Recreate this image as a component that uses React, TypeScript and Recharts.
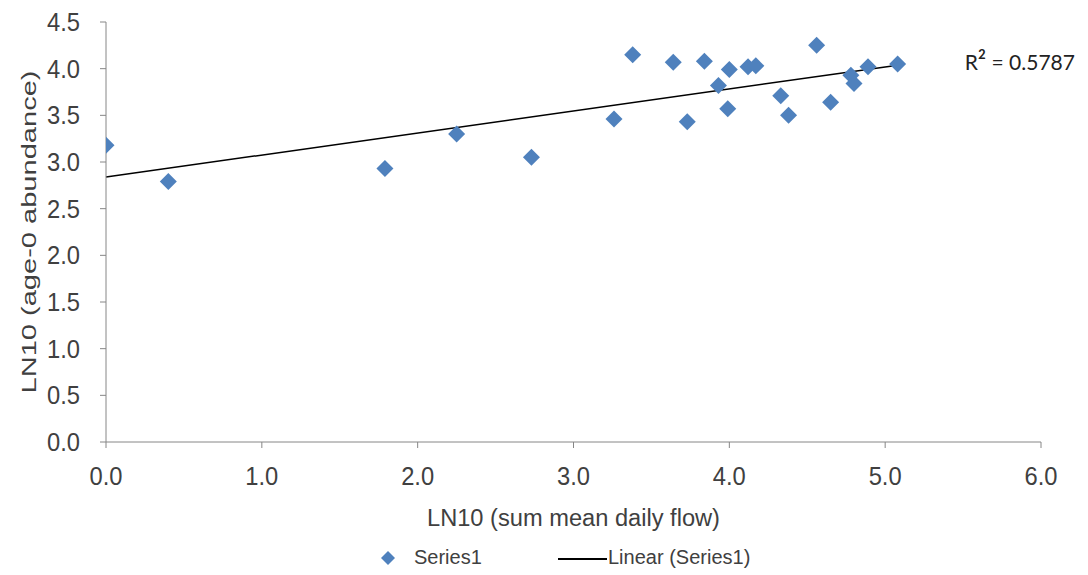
import { ScatterChart, Scatter, XAxis, YAxis, ReferenceLine, Legend, Label } from "recharts";

// LN10 of summed mean daily flow (x) and age-0 abundance (y)
const flowValues = [
  0.0, 0.4, 1.79, 2.25, 2.73, 3.26, 3.38, 3.64, 3.73, 3.84, 3.93, 4.0,
  3.99, 4.12, 4.17, 4.33, 4.38, 4.56, 4.65, 4.78, 4.8, 4.89, 5.08,
];
const abundanceValues = [
  3.18, 2.79, 2.93, 3.3, 3.05, 3.46, 4.15, 4.07, 3.43, 4.08, 3.82, 3.99,
  3.57, 4.02, 4.03, 3.71, 3.5, 4.25, 3.64, 3.93, 3.84, 4.02, 4.05,
];
const xTicks = [0, 1, 2, 3, 4, 5, 6];
const yTicks = [0, 0.5, 1, 1.5, 2, 2.5, 3, 3.5, 4, 4.5];
const rSquaredValue = "0.5787";

const points = flowValues.map((x, i) => ({ x, y: abundanceValues[i] }));

// least-squares trend line, like Excel's "Linear (Series1)"
const n = points.length;
const meanX = flowValues.reduce((a, b) => a + b, 0) / n;
const meanY = abundanceValues.reduce((a, b) => a + b, 0) / n;
let sxy = 0;
let sxx = 0;
points.forEach((p) => {
  sxy += (p.x - meanX) * (p.y - meanY);
  sxx += (p.x - meanX) ** 2;
});
const slope = sxy / sxx;
const intercept = meanY - slope * meanX;
const xMin = Math.min(...flowValues);
const xMax = Math.max(...flowValues);
const trendSegment = [
  { x: xMin, y: intercept + slope * xMin },
  { x: xMax, y: intercept + slope * xMax },
];

const BLUE = "#4F81BD";
const AXIS = "#868686";
const TEXT = "#404040";
const FONT = "'Liberation Sans', Arial, sans-serif";

function Diamond(props: any) {
  const { cx, cy } = props;
  const r = 8.5;
  return (
    <polygon
      points={`${cx},${cy - r} ${cx + r},${cy} ${cx},${cy + r} ${cx - r},${cy}`}
      fill={BLUE}
    />
  );
}

// tick labels are a bit condensed in the original
function XTick(props: any) {
  const { x, y, payload } = props;
  return (
    <text x={x} y={y} dy="0.71em" textAnchor="middle" fontFamily={FONT} fontSize={26} fill={TEXT}
      textLength={33} lengthAdjust="spacingAndGlyphs">
      {Number(payload.value).toFixed(1)}
    </text>
  );
}

function YTick(props: any) {
  const { x, y, payload } = props;
  return (
    <text x={x} y={y} textAnchor="end" dominantBaseline="central" fontFamily={FONT} fontSize={26} fill={TEXT}
      textLength={33} lengthAdjust="spacingAndGlyphs">
      {Number(payload.value).toFixed(1)}
    </text>
  );
}

function XTitle(props: any) {
  const { viewBox } = props;
  const cx = viewBox.x + viewBox.width / 2;
  return (
    <text
      x={cx}
      y={viewBox.y + 76}
      textAnchor="middle"
      dominantBaseline="central"
      fontFamily={FONT}
      fontSize={23}
      fill={TEXT}
      textLength={293}
      lengthAdjust="spacingAndGlyphs"
    >
      LN10 (sum mean daily flow)
    </text>
  );
}

function YTitle(props: any) {
  const { viewBox } = props;
  const cy = viewBox.y + viewBox.height / 2;
  const cx = 28;
  return (
    <text
      x={cx}
      y={cy}
      transform={`rotate(-90 ${cx} ${cy})`}
      textAnchor="middle"
      dominantBaseline="central"
      fontFamily={FONT}
      fontSize={21}
      fill={TEXT}
      textLength={323}
      lengthAdjust="spacingAndGlyphs"
    >
      LN10 (age-0 abundance)
    </text>
  );
}

function RSquared(props: any) {
  const { viewBox } = props;
  const x = viewBox.x + viewBox.width + 67;
  const y = viewBox.y + 5;
  return (
    <text x={x} y={y} fontFamily="Lato, 'Open Sans', sans-serif" fontSize={21} fill="#222">
      R<tspan fontSize={25}>²</tspan> = {rSquaredValue}
    </text>
  );
}

function LegendBox() {
  return (
    <div style={{ position: "relative", height: 30, fontFamily: FONT, fontSize: 20, color: TEXT }}>
      <svg width={16} height={16} style={{ position: "absolute", left: 380, top: 7 }}>
        <polygon points="8,1 15,8 8,15 1,8" fill={BLUE} />
      </svg>
      <span style={{ position: "absolute", left: 414, top: 3 }}>Series1</span>
      <div style={{ position: "absolute", left: 558, top: 15, width: 49, height: 1.5, background: "#000" }} />
      <span style={{ position: "absolute", left: 608, top: 3 }}>Linear (Series1)</span>
    </div>
  );
}

export default function App() {
  return (
    <div style={{ position: "absolute", left: 0, top: 0, background: "#fff" }}>
      <ScatterChart width={1088} height={575} margin={{ top: 22, right: 47, bottom: 2, left: 0 }}>
        <XAxis
          type="number"
          dataKey="x"
          domain={[0, 6]}
          ticks={xTicks}
          height={101}
          stroke={AXIS}
          tickSize={6}
          tickMargin={19}
          tick={<XTick />}
          allowDataOverflow
        >
          <Label content={XTitle} />
        </XAxis>
        <YAxis
          type="number"
          dataKey="y"
          domain={[0, 4.5]}
          ticks={yTicks}
          width={106}
          stroke={AXIS}
          tickSize={6}
          tickMargin={20}
          tick={<YTick />}
          allowDataOverflow
        >
          <Label content={YTitle} />
        </YAxis>
        <ReferenceLine
          segment={trendSegment}
          stroke="#000"
          strokeWidth={1.5}
          ifOverflow="visible"
          label={<RSquared />}
        />
        <Scatter name="Series1" data={points} fill={BLUE} shape={Diamond} isAnimationActive={false} />
        <Legend
          verticalAlign="bottom"
          align="left"
          wrapperStyle={{ left: 0, width: 1088 }}
          content={() => <LegendBox />}
        />
      </ScatterChart>
    </div>
  );
}
